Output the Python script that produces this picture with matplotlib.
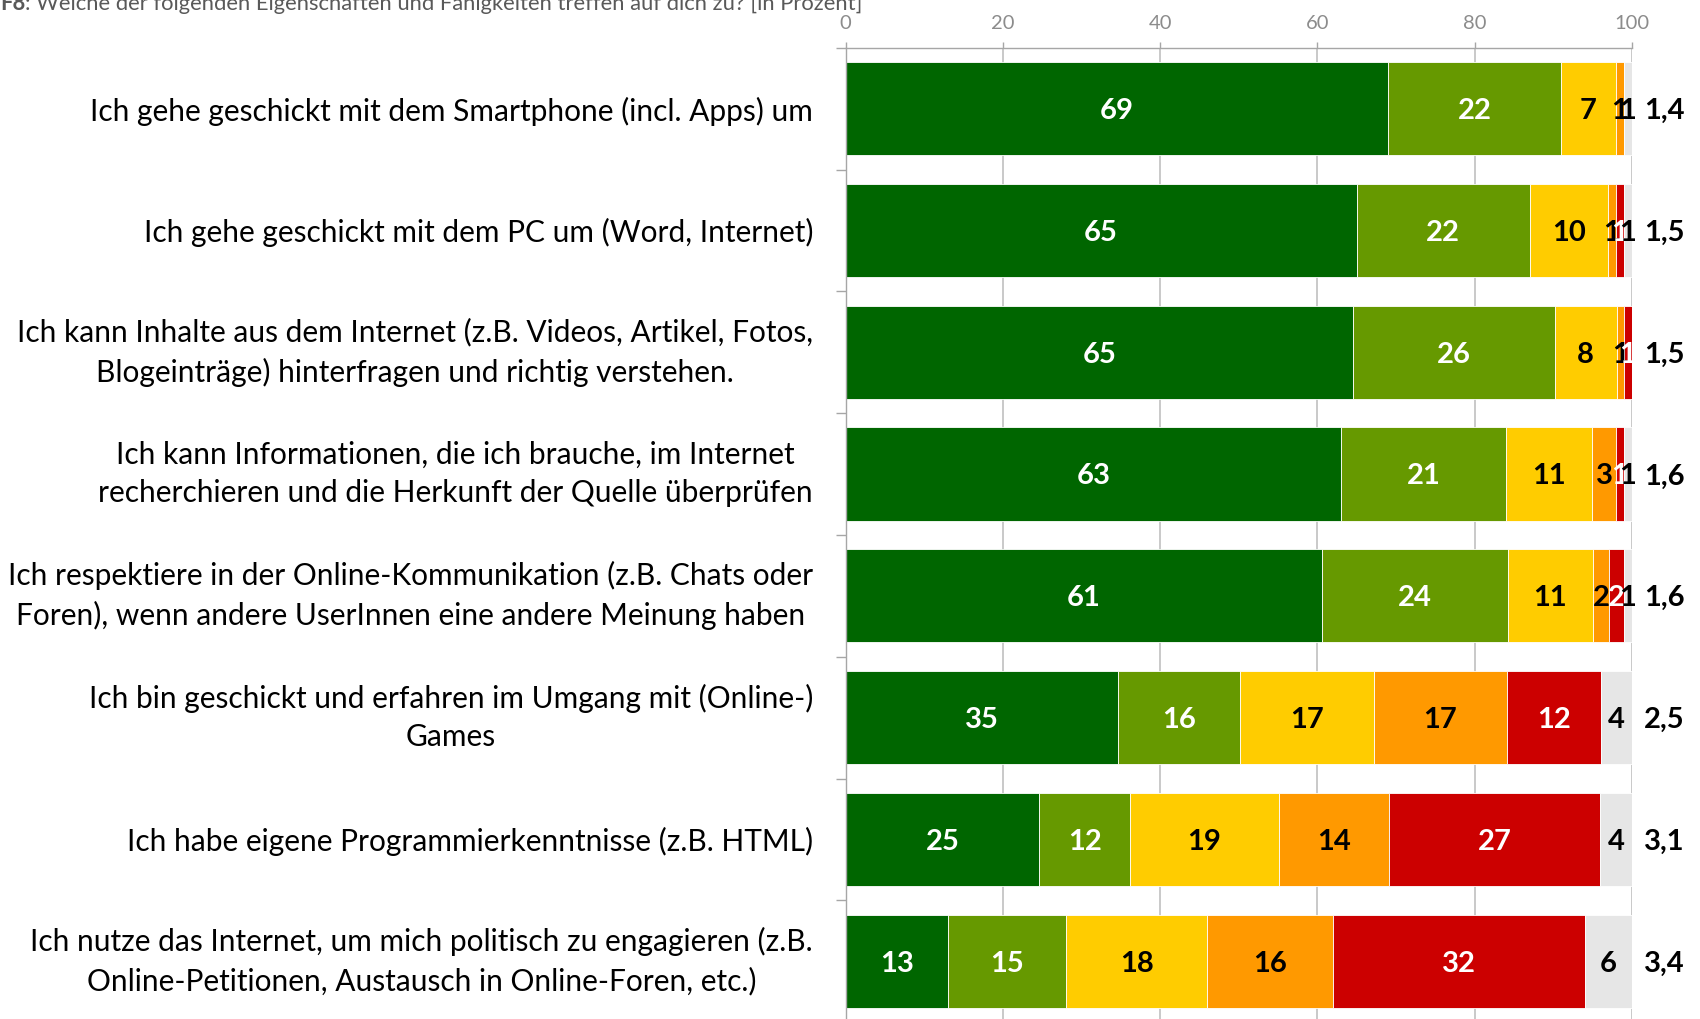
import matplotlib
matplotlib.use("Agg")
import matplotlib.pyplot as plt
import numpy as np

plt.rcParams['font.family'] = ['Lato', 'DejaVu Sans']

categories = [
    "Ich gehe geschickt mit dem Smartphone (incl. Apps) um",
    "Ich gehe geschickt mit dem PC um (Word, Internet)",
    "Ich kann Inhalte aus dem Internet (z.B. Videos, Artikel, Fotos,\nBlogeinträge) hinterfragen und richtig verstehen.",
    "Ich kann Informationen, die ich brauche, im Internet\nrecherchieren und die Herkunft der Quelle überprüfen",
    "Ich respektiere in der Online-Kommunikation (z.B. Chats oder\nForen), wenn andere UserInnen eine andere Meinung haben",
    "Ich bin geschickt und erfahren im Umgang mit (Online-)\nGames",
    "Ich habe eigene Programmierkenntnisse (z.B. HTML)",
    "Ich nutze das Internet, um mich politisch zu engagieren (z.B.\nOnline-Petitionen, Austausch in Online-Foren, etc.)",
]

seg1 = [69, 65, 64.6, 63, 60.6, 34.6, 24.6, 13]
seg2 = [22, 22, 25.6, 21, 23.6, 15.6, 11.6, 15]
seg3 = [7, 10, 7.9, 11, 10.9, 17.0, 18.9, 18]
seg4 = [1, 1, 0.9, 3, 2.0, 16.9, 14.0, 16]
seg5 = [0, 1, 1.0, 1, 1.9, 12.0, 26.9, 32]
seg6 = [1, 1, 0, 1, 1.0, 3.9, 4.0, 6]
means = [1.4, 1.5, 1.5, 1.6, 1.6, 2.5, 3.1, 3.4]

xticks = [0, 20, 40, 60, 80, 100]
title_bold = "F8"
title_rest = ": Welche der folgenden Eigenschaften und Fähigkeiten treffen auf dich zu? [in Prozent]"

segments = [seg1, seg2, seg3, seg4, seg5, seg6]
colors = ['#006600', '#669900', '#FFCC00', '#FF9900', '#CC0000', '#E6E6E6']
text_colors = ['white', 'white', 'black', 'black', 'white', 'black']

W, H = 1700, 1019
fig = plt.figure(figsize=(W / 100, H / 100), dpi=100)
ax_left = 845.7 / W
ax_right = 1631.7 / W
ax_top = 1 - 47.7 / H
ax_h = 8 * 121.8 / H
ax = fig.add_axes([ax_left, ax_top - ax_h, ax_right - ax_left, ax_h])

y = np.arange(len(categories))
left = np.zeros(len(categories))
for vals, col, tcol in zip(segments, colors, text_colors):
    vals = np.array(vals, dtype=float)
    ax.barh(y, vals, left=left, height=0.765, color=col, edgecolor='white',
            linewidth=0.6, zorder=2)
    for yi, (l, v) in enumerate(zip(left, vals)):
        if v > 0:
            ax.text(l + v / 2, yi, f"{v:.0f}", ha='center', va='center_baseline',
                    color=tcol, fontsize=21, fontweight='bold', zorder=3)
    left += vals

for yi, m in enumerate(means):
    ax.annotate(f"{m:.1f}".replace('.', ','), xy=(100, yi), xycoords='data',
                xytext=(9, 0), textcoords='offset points', ha='left',
                va='center_baseline', fontsize=21, fontweight='bold',
                color='black', annotation_clip=False)

ax.set_xlim(0, 100)
ax.set_ylim(len(categories) - 0.5, -0.5)

grey = '#A6A6A6'
ax.xaxis.tick_top()
ax.set_xticks(xticks)
ax.set_xticklabels([str(t) for t in xticks])
ax.tick_params(axis='x', which='major', length=4.5, width=1, color=grey,
               labelcolor='#8C8C8C', labelsize=14.5, pad=7)
ax.xaxis.grid(True, color='#C0C0C0', linewidth=1.2, zorder=0)
ax.set_axisbelow(True)

ax.set_yticks(y)
ax.set_yticklabels(categories)
ax.set_yticks(np.arange(-0.5, len(categories), 1.0), minor=True)
ax.tick_params(axis='y', which='major', length=0, pad=23.5, labelsize=22)
ax.tick_params(axis='y', which='minor', length=7, width=1, color=grey)

for sp in ['right', 'bottom']:
    ax.spines[sp].set_visible(False)
for sp in ['top', 'left']:
    ax.spines[sp].set_color(grey)
    ax.spines[sp].set_linewidth(1)

# fit category label size to reference width of first label (721 px)
fig.canvas.draw()
r = fig.canvas.get_renderer()
lbls = ax.get_yticklabels()
w0 = lbls[0].get_window_extent(r).width
fs = 22 * 721.0 / w0
for lbl in lbls:
    lbl.set_fontsize(fs)
    lbl.set_multialignment('center')
    lbl.set_linespacing(1.45)
    if '\n' in lbl.get_text():
        lbl.set_verticalalignment('center')

t1 = fig.text(0.0, 1 - 10 / H, title_bold, fontsize=15.8, fontweight='bold',
              color='#595959', ha='left', va='baseline')
fig.canvas.draw()
bb = t1.get_window_extent(r)
fig.text(bb.x1 / W, 1 - 10 / H, title_rest, fontsize=15.8, color='#595959',
         ha='left', va='baseline')

fig.savefig('out.png', dpi=100)
